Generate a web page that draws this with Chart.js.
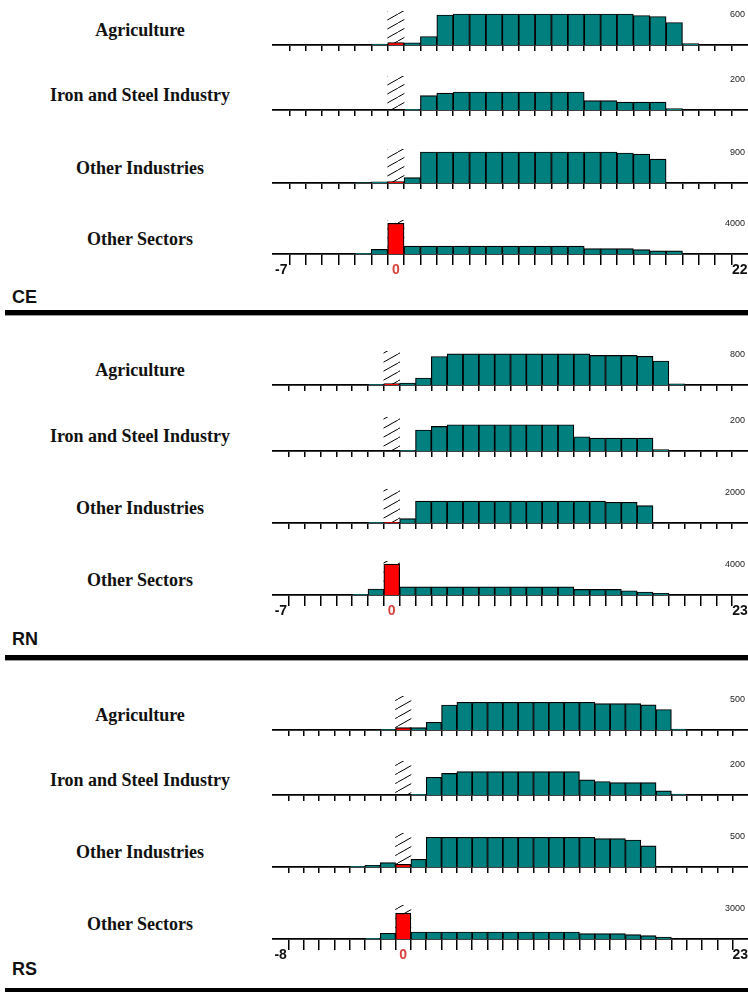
<!DOCTYPE html>
<html>
<head>
<meta charset="utf-8">
<script src="https://cdn.jsdelivr.net/npm/chart.js@4.4.1/dist/chart.umd.min.js"></script>
<style>
    html, body { margin: 0; padding: 0; background: #fff; }
    #page { position: relative; width: 748px; height: 992px; overflow: hidden; }
    .panel { position: absolute; left: 270px; width: 478px; }
    .panel canvas { display: block; }
    .sector {
        position: absolute; left: 0; width: 280px; text-align: center;
        font: bold 18px "Liberation Serif", "Times New Roman", serif;
        line-height: 20px; color: #111;
    }
    .region {
        position: absolute; left: 12px;
        font: bold 18px "Liberation Sans", Arial, sans-serif;
        line-height: 20px; color: #111;
    }
    .rule { position: absolute; left: 5px; right: 0; height: 5px; background: #000; border-bottom: 1px solid #9a9a9a; }
</style>
</head>
<body>
<div id="page"></div>
<script>
// 分箱（相对年份）
const ceBins = [-7, -6, -5, -4, -3, -2, -1, 0, 1, 2, 3, 4, 5, 6, 7, 8, 9, 10, 11, 12, 13, 14, 15, 16, 17, 18, 19, 20, 21];
const rnBins = [-7, -6, -5, -4, -3, -2, -1, 0, 1, 2, 3, 4, 5, 6, 7, 8, 9, 10, 11, 12, 13, 14, 15, 16, 17, 18, 19, 20, 21, 22];
const rsBins = [-8, -7, -6, -5, -4, -3, -2, -1, 0, 1, 2, 3, 4, 5, 6, 7, 8, 9, 10, 11, 12, 13, 14, 15, 16, 17, 18, 19, 20, 21, 22];

const sectorNames = ['Agriculture', 'Iron and Steel Industry', 'Other Industries', 'Other Sectors'];
const regionNames = ['CE', 'RN', 'RS'];

// CE
const ceAgriculture = [0, 0, 0, 0, 0, 0, 20, 50, 45, 170, 600, 620, 620, 620, 620, 620, 620, 620, 620, 620, 620, 620, 590, 570, 450, 28, 0, 0, 0];
const ceIronSteel = [0, 0, 0, 0, 0, 0, 0, 0, 5, 96, 113, 120, 120, 120, 120, 120, 120, 120, 120, 62, 62, 53, 53, 53, 9, 0, 0, 0, 0];
const ceOtherIndustries = [0, 0, 0, 0, 0, 15, 35, 40, 160, 930, 930, 930, 930, 930, 930, 930, 930, 930, 930, 930, 930, 900, 865, 715, 0, 0, 0, 0, 0];
const ceOtherSectors = [0, 0, 0, 0, 0, 90, 620, 4090, 1060, 1060, 1060, 1060, 1060, 1060, 1060, 1060, 1060, 1060, 1060, 730, 730, 730, 580, 420, 420, 0, 0, 0, 0];

// RN
const rnAgriculture = [0, 0, 0, 0, 0, 0, 18, 36, 53, 187, 760, 830, 830, 830, 830, 830, 830, 830, 830, 830, 790, 790, 790, 765, 640, 28, 0, 0, 0, 0];
const rnIronSteel = [0, 0, 0, 0, 0, 0, 0, 0, 5, 140, 164, 175, 175, 175, 175, 175, 175, 175, 175, 95, 86, 86, 86, 86, 9, 0, 0, 0, 0, 0];
const rnOtherIndustries = [0, 0, 0, 0, 0, 0, 40, 44, 290, 1465, 1465, 1465, 1465, 1465, 1465, 1465, 1465, 1465, 1465, 1465, 1465, 1380, 1380, 1160, 0, 0, 0, 0, 0, 0];
const rnOtherSectors = [0, 0, 0, 0, 0, 90, 800, 4130, 1080, 1080, 1080, 1080, 1080, 1080, 1080, 1080, 1080, 1080, 1080, 750, 750, 750, 570, 400, 220, 0, 0, 0, 0, 0];

// RS
const rsAgriculture = [0, 0, 0, 0, 0, 0, 0, 11, 39, 39, 128, 417, 462, 462, 462, 462, 462, 462, 462, 462, 462, 440, 440, 440, 420, 342, 17, 0, 0, 0, 0];
const rsIronSteel = [0, 0, 0, 0, 0, 0, 0, 0, 0, 5, 118, 144, 156, 156, 156, 156, 156, 156, 156, 156, 101, 90, 83, 83, 83, 28, 6, 0, 0, 0, 0];
const rsOtherIndustries = [0, 0, 0, 0, 0, 11, 28, 72, 45, 128, 495, 495, 495, 495, 495, 495, 495, 495, 495, 495, 495, 472, 472, 450, 353, 0, 0, 0, 0, 0, 0];
const rsOtherSectors = [0, 0, 0, 0, 0, 0, 67, 570, 2570, 700, 700, 700, 700, 700, 700, 700, 700, 700, 700, 700, 540, 540, 540, 440, 340, 200, 0, 0, 0, 0, 0];

// 右上角刻度值
const ceScaleLabels = [600, 200, 900, 4000];
const rnScaleLabels = [800, 200, 2000, 4000];
const rsScaleLabels = [500, 200, 500, 3000];

// 横轴两端标签
const ceAxisLabels = ['-7', '22'];
const rnAxisLabels = ['-7', '23'];
const rsAxisLabels = ['-8', '23'];

const TEAL = '#007f7f';
const RED = '#ff0000';
const ZERO_LABEL = '#d9413c';

class RegionHistograms {
    constructor(page) {
        this.page = page;
        this.charts = new Map();
        this.tile = this.createHatchTile();
    }

    // 斜线阴影
    createHatchTile() {
        const tile = document.createElement('canvas');
        tile.width = 16;
        tile.height = 9;
        const ctx = tile.getContext('2d');
        ctx.strokeStyle = '#000';
        ctx.lineWidth = 1;
        ctx.beginPath();
        ctx.moveTo(-2, 9 + 9 / 8);
        ctx.lineTo(18, -9 / 8);
        ctx.stroke();
        return tile;
    }

    addText(cls, text, top) {
        const el = document.createElement('div');
        el.className = cls;
        el.textContent = text;
        el.style.top = top + 'px';
        this.page.appendChild(el);
    }

    addRule(top, height) {
        const el = document.createElement('div');
        el.className = 'rule';
        el.style.top = top + 'px';
        el.style.height = height + 'px';
        this.page.appendChild(el);
    }

    createPanel(id, bins, values, scaleLabel, ends, baseline, isBottom) {
        const bottomSpace = isBottom ? 28 : 8;
        const plotHeight = 34;
        const topSpace = 6;

        const div = document.createElement('div');
        div.className = 'panel';
        div.style.top = (baseline - plotHeight - topSpace) + 'px';
        const canvas = document.createElement('canvas');
        canvas.width = 478;
        canvas.height = plotHeight + topSpace + bottomSpace;
        div.appendChild(canvas);
        this.page.appendChild(div);

        const ctx = canvas.getContext('2d');
        const hatch = ctx.createPattern(this.tile, 'repeat');
        const yMax = scaleLabel * plotHeight / 30;

        const chart = new Chart(ctx, {
            type: 'bar',
            data: {
                labels: bins.map(String),
                datasets: [{
                    data: values,
                    backgroundColor: bins.map(b => b === 0 ? RED : TEAL),
                    borderColor: '#000',
                    borderWidth: 1.2,
                    grouped: false,
                    order: 1,
                    barPercentage: 1,
                    categoryPercentage: 1
                }, {
                    data: bins.map(b => b === 0 ? yMax : null),
                    backgroundColor: hatch,
                    borderWidth: 0,
                    grouped: false,
                    order: 2,
                    barPercentage: 1,
                    categoryPercentage: 1
                }]
            },
            options: {
                responsive: false,
                animation: false,
                events: [],
                layout: { padding: { left: 3, top: topSpace, right: 0, bottom: 0 } },
                plugins: {
                    legend: { display: false },
                    tooltip: { enabled: false }
                },
                scales: {
                    x: {
                        type: 'category',
                        offset: true,
                        grid: {
                            offset: true,
                            drawOnChartArea: false,
                            drawTicks: true,
                            tickLength: isBottom ? 11 : 6,
                            lineWidth: 1.5,
                            color: (c) => (c.type === 'tick' && c.index > 0) ? '#000' : 'rgba(0,0,0,0)'
                        },
                        border: { display: true, color: '#000', width: 1.8 },
                        ticks: {
                            display: isBottom,
                            autoSkip: false,
                            maxRotation: 0,
                            minRotation: 0,
                            padding: -3,
                            font: { family: '"Liberation Sans", Arial, sans-serif', size: 14, weight: 'bold' },
                            color: (c) => bins[c.index] === 0 ? ZERO_LABEL : '#111',
                            callback: function(value, index) {
                                if (index === 0) return ends[0];
                                if (index === bins.length - 1) return ends[1];
                                if (bins[index] === 0) return '0';
                                return '';
                            }
                        },
                        afterFit: (axis) => { axis.height = bottomSpace; }
                    },
                    y: {
                        type: 'linear',
                        position: 'right',
                        min: 0,
                        max: yMax,
                        grid: { display: false },
                        border: { display: false },
                        afterBuildTicks: (axis) => { axis.ticks = [{ value: scaleLabel }]; },
                        ticks: {
                            mirror: true,
                            padding: -3,
                            font: { family: '"Liberation Sans", Arial, sans-serif', size: 9 },
                            color: '#222',
                            callback: (v) => String(v)
                        },
                        afterFit: (axis) => { axis.width = 0; }
                    }
                }
            }
        });

        this.charts.set(id, chart);
        return chart;
    }
}

const page = document.getElementById('page');
const view = new RegionHistograms(page);

const regions = [
    { name: regionNames[0], bins: ceBins, series: [ceAgriculture, ceIronSteel, ceOtherIndustries, ceOtherSectors],
      scale: ceScaleLabels, ends: ceAxisLabels, baselines: [45, 110, 183, 254], nameTop: 287, ruleTop: 310, ruleHeight: 5 },
    { name: regionNames[1], bins: rnBins, series: [rnAgriculture, rnIronSteel, rnOtherIndustries, rnOtherSectors],
      scale: rnScaleLabels, ends: rnAxisLabels, baselines: [385, 451, 523, 595], nameTop: 629, ruleTop: 655, ruleHeight: 5 },
    { name: regionNames[2], bins: rsBins, series: [rsAgriculture, rsIronSteel, rsOtherIndustries, rsOtherSectors],
      scale: rsScaleLabels, ends: rsAxisLabels, baselines: [730, 795, 867, 939], nameTop: 959, ruleTop: 988, ruleHeight: 4 }
];

regions.forEach(region => {
    region.series.forEach((values, i) => {
        const baseline = region.baselines[i];
        view.addText('sector', sectorNames[i], baseline - 25);
        view.createPanel(region.name + '-' + i, region.bins, values, region.scale[i], region.ends, baseline, i === 3);
    });
    view.addText('region', region.name, region.nameTop);
    view.addRule(region.ruleTop, region.ruleHeight);
});
</script>
</body>
</html>
